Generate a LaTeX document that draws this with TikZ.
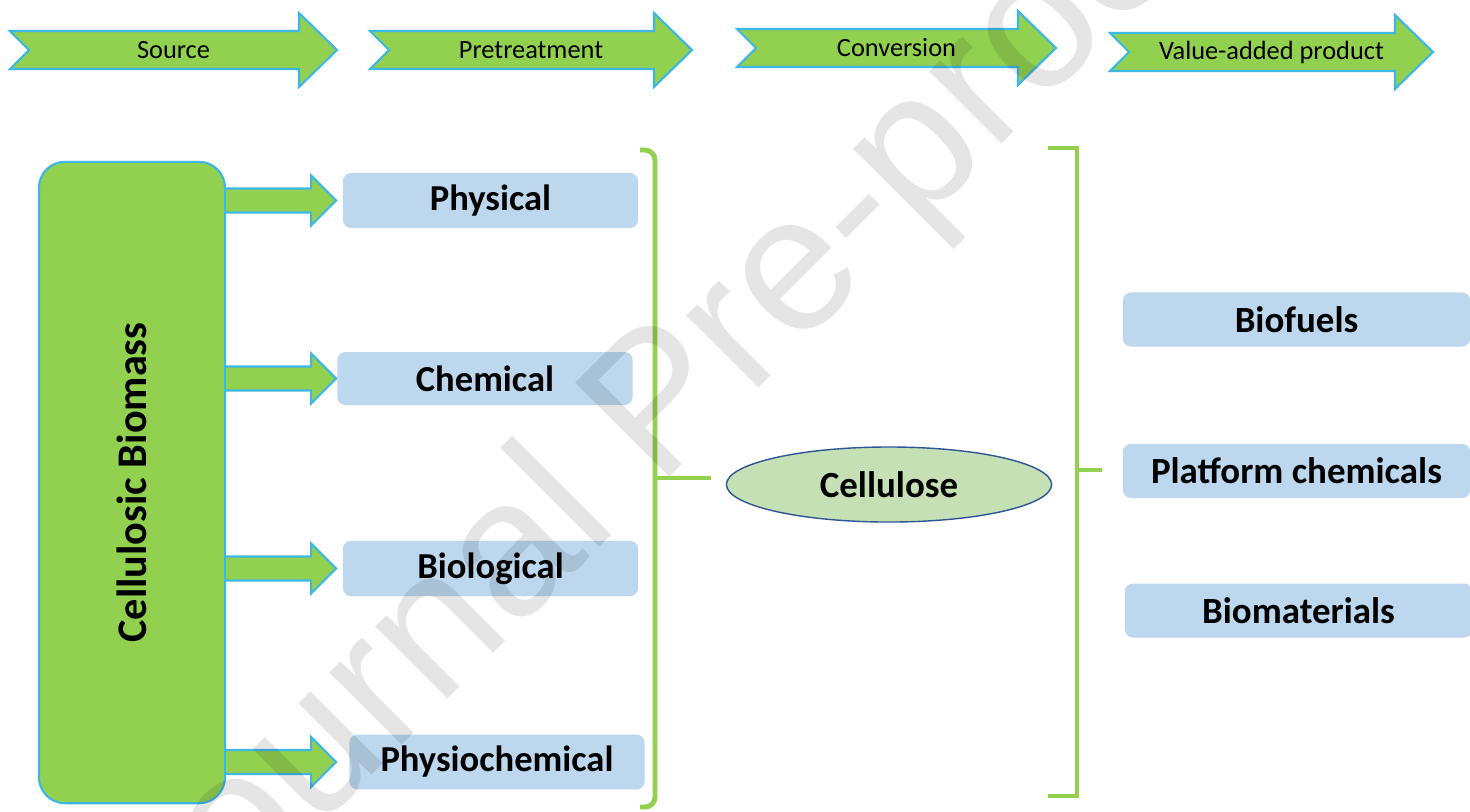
\documentclass[tikz,border=0pt]{standalone}
\usepackage{fontspec}
\setmainfont{Carlito}
\newfontfamily\wmfont{Liberation Sans}
\usetikzlibrary{shapes.geometric}

\definecolor{leafgreen}{HTML}{92D050}
\definecolor{skyline}{HTML}{3DB7E4}
\definecolor{boxblue}{HTML}{BDD7EE}
\definecolor{palegreen}{HTML}{C5E0B4}
\definecolor{ovalline}{HTML}{2F5597}

\begin{document}
\begin{tikzpicture}[x=0.01cm, y=-0.01cm,
    stage/.style={fill=leafgreen, draw=skyline, line width=0.6pt, line join=miter},
    blockarr/.style={fill=leafgreen, draw=skyline, line width=0.6pt},
    route/.style={fill=boxblue, rounded corners=0.8mm, minimum width=29.5mm, minimum height=5.3mm,
        font=\fontsize{10.4}{12}\selectfont\bfseries},
    product/.style={fill=boxblue, rounded corners=0.8mm, minimum width=34.7mm, minimum height=5.4mm,
        font=\fontsize{10.5}{12}\selectfont\bfseries},
    brace/.style={leafgreen, line width=1.4pt}]

    \fill[white] (0,0) rectangle (1470,811);
    \useasboundingbox (0,0) rectangle (1470,811);

    % stages along the top
    \foreach \xa/\xb/\yc/\lbl/\nm in {10/337/50/Source/src, 370/692/50/Pretreatment/pre,
        737/1056/48/Conversion/conv, 1110/1433/52/Value-added product/val} {
        \draw[stage] (\xa,\yc-19) -- (\xb-38,\yc-19) -- (\xb-38,\yc-37) -- (\xb,\yc)
            -- (\xb-38,\yc+37) -- (\xb-38,\yc+19) -- (\xa,\yc+19) -- (\xa+19,\yc) -- cycle;
        \node[font=\fontsize{7.5}{9}\selectfont] (\nm) at ({(\xa+\xb)/2},\yc) {\lbl};
    }

    % source
    \node[draw=skyline, fill=leafgreen, line width=0.6pt, rounded corners=2.6mm,
        minimum width=18.6mm, minimum height=64.1mm] (bio) at (132,482.5) {};
    \node[rotate=90, font=\fontsize{12}{14}\selectfont\bfseries] (biotxt) at (bio.center) {Cellulosic Biomass};

    % pretreatment
    \node[route] (phys) at (490.5,200.5) {Physical};
    \node[route] (chem) at (485,378.5) {Chemical};
    \node[route] (biol) at (490.5,568.5) {Biological};
    \node[route] (phch) at (497,762) {Physiochemical};

    \foreach \b in {phys,chem,biol,phch}
        \filldraw[blockarr] (bio.east |- \b.west) ++(0,-12) -- ++(85,0) -- ++(0,-13)
            -- ++(25,25) -- ++(-25,25) -- ++(0,-13) -- ++(-85,0);

    % conversion
    \node[ellipse, draw=ovalline, fill=palegreen, line width=0.4pt, inner sep=0pt,
        minimum width=32.5mm, minimum height=7.5mm, font=\fontsize{10.5}{12}\selectfont\bfseries]
        (cell) at (889,484.5) {Cellulose};

    \draw[brace, rounded corners=1mm] (640,150) -- (655,150) -- (655,807) -- (640,807);
    \coordinate (lmid) at (655,478);
    \draw[brace, shorten >=1.5mm] (lmid) -- (lmid -| cell.west);

    % products
    \node[product] (biof) at (1296.5,319.5) {Biofuels};
    \node[product] (plat) at (1296.5,471) {Platform chemicals};
    \node[product] (biom) at (1298.5,610.5) {Biomaterials};

    \draw[brace] (1048,148) -- (1077,148) -- (1077,796) -- (1048,796);
    \coordinate (rmid) at (1077,470);
    \draw[brace, shorten >=2mm] (rmid) -- (rmid -| plat.west);

    % watermark
    \node[rotate=45, text=black, text opacity=0.1, font=\wmfont\fontsize{55}{60}\selectfont]
        (wm) at (665,411) {Journal Pre-proof};
\end{tikzpicture}
\end{document}
